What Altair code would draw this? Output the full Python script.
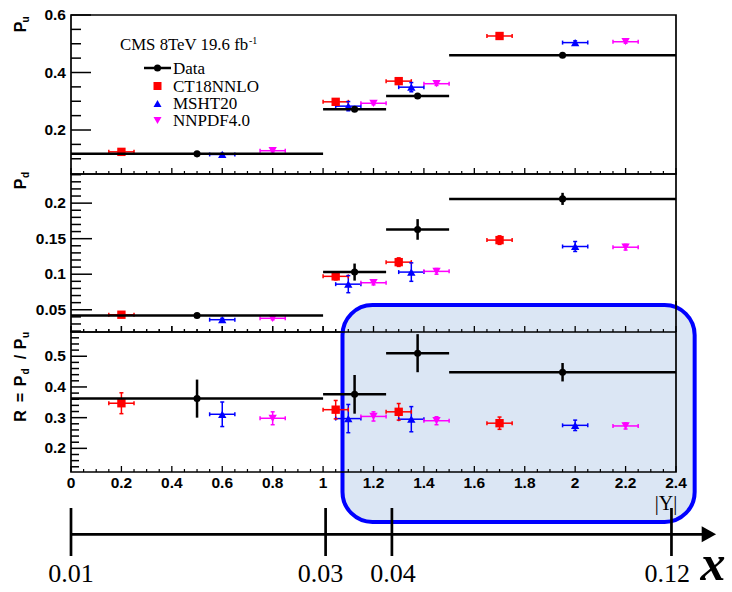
import altair as alt
import pandas as pd

# ---------------- data ----------------
series_names = ["CT18NNLO", "MSHT20", "NNPDF4.0"]
series_colors = ["#ff0000", "#0000ff", "#ff00ff"]
series_shapes = ["square", "triangle-up", "triangle-down"]

data_x = [0.5, 1.125, 1.375, 1.95]
data_xlo = [0.0, 1.0, 1.25, 1.5]
data_xhi = [1.0, 1.25, 1.5, 2.4]
ct_x = [0.2, 1.05, 1.3, 1.7]
msht_x = [0.6, 1.1, 1.35, 2.0]
nn_x = [0.8, 1.2, 1.45, 2.2]
model_xerr = 0.05

pu_data = [0.117, 0.272, 0.318, 0.460]
pu_data_err = [0.003, 0.004, 0.005, 0.005]
pu_ct = [0.124, 0.298, 0.370, 0.527]
pu_ct_err = [0.004, 0.005, 0.006, 0.006]
pu_msht = [0.115, 0.283, 0.349, 0.504]
pu_msht_err = [0.004, 0.016, 0.016, 0.006]
pu_nn = [0.128, 0.293, 0.361, 0.507]
pu_nn_err = [0.004, 0.005, 0.006, 0.005]

pd_data = [0.042, 0.103, 0.163, 0.206]
pd_data_err = [0.002, 0.012, 0.0145, 0.0085]
pd_ct = [0.043, 0.097, 0.117, 0.148]
pd_ct_err = [0.002, 0.005, 0.006, 0.006]
pd_msht = [0.036, 0.086, 0.103, 0.139]
pd_msht_err = [0.002, 0.012, 0.013, 0.007]
pd_nn = [0.038, 0.088, 0.104, 0.138]
pd_nn_err = [0.002, 0.003, 0.004, 0.004]

r_data = [0.362, 0.376, 0.510, 0.448]
r_data_err = [0.062, 0.063, 0.062, 0.030]
r_ct = [0.347, 0.326, 0.319, 0.282]
r_ct_err = [0.034, 0.030, 0.027, 0.020]
r_msht = [0.311, 0.297, 0.295, 0.275]
r_msht_err = [0.040, 0.046, 0.041, 0.017]
r_nn = [0.298, 0.304, 0.290, 0.273]
r_nn_err = [0.021, 0.015, 0.013, 0.010]

# bjorken-x annotation axis
xb_labels = ["0.01", "0.03", "0.04", "0.12"]
xb_ticks = [0.0, 1.01, 1.273, 2.382]
xb_label_at = [0.0, 0.99, 1.277, 2.365]

# tick values
x_major = [0, 0.2, 0.4, 0.6, 0.8, 1, 1.2, 1.4, 1.6, 1.8, 2, 2.2, 2.4]
x_minor = [round(i * 0.05, 2) for i in range(49) if i % 4 != 0]
pu_major = [0.2, 0.4, 0.6]
pu_minor = [0.1, 0.15, 0.25, 0.3, 0.35, 0.45, 0.5, 0.55]
pd_major = [0.05, 0.1, 0.15, 0.2]
pd_minor = [round(0.02 + i * 0.01, 2) for i in range(23) if (i + 2) % 5 != 0]
r_major = [0.2, 0.3, 0.4, 0.5]
r_minor = [round(0.14 + i * 0.02, 2) for i in range(22) if (i + 2) % 5 != 0]

# ---------------- layout ----------------
W = 605
X0 = 71
tops = [15, 174, 332]
heights = [159, 158, 140]
one = pd.DataFrame({"k": [0]})
xscale = alt.Scale(domain=[0, 2.4], nice=False, zero=False)
LAB_FONT = "Liberation Sans"
SERIF = "Liberation Serif"


def txt(text, x, y, size, font=SERIF, weight="normal", style="normal",
        angle=0, align="left", baseline="alphabetic", color="black"):
    return alt.Chart(one).mark_text(
        text=text, fontSize=size, font=font, fontWeight=weight, fontStyle=style,
        angle=angle, align=align, baseline=baseline, color=color
    ).encode(x=alt.value(x), y=alt.value(y))


def tick_labels(vals):
    return pd.DataFrame({"v": vals, "lab": [f"{v:g}" for v in vals]})


def model_frame(xs_list, ys_list, es_list):
    rows = []
    for name, xs, ys, es in zip(series_names, xs_list, ys_list, es_list):
        for x, y, e in zip(xs, ys, es):
            rows.append({"series": name, "x": x, "y": y,
                         "xlo": x - model_xerr, "xhi": x + model_xerr,
                         "ylo": y - e, "yhi": y + e})
    return pd.DataFrame(rows)


col = alt.Color("series:N", scale=alt.Scale(domain=series_names, range=series_colors), legend=None)
shp = alt.Shape("series:N", scale=alt.Scale(domain=series_names, range=series_shapes), legend=None)


def panel(idx, dy, de, my, me, domain, yt_major, yt_minor, maj_len, min_len,
          before=(), after=(), x_labels=False):
    H = heights[idx]
    ysc = alt.Scale(domain=domain, nice=False, zero=False)

    def X(f):
        return alt.X(f, scale=xscale, axis=None)

    def Y(f):
        return alt.Y(f, scale=ysc, axis=None)

    ddf = pd.DataFrame({"x": data_x, "xlo": data_xlo, "xhi": data_xhi, "y": dy, "e": de})
    ddf["ylo"] = ddf.y - ddf.e
    ddf["yhi"] = ddf.y + ddf.e
    mdf = model_frame([ct_x, msht_x, nn_x], my, me)

    layers = list(before)
    # y ticks (inside) and labels
    layers.append(alt.Chart(pd.DataFrame({"v": yt_major})).mark_rule(color="black", strokeWidth=1.5).encode(
        y=Y("v:Q"), x=alt.value(0), x2=alt.value(maj_len)))
    layers.append(alt.Chart(pd.DataFrame({"v": yt_minor})).mark_rule(color="black", strokeWidth=1.5).encode(
        y=Y("v:Q"), x=alt.value(0), x2=alt.value(min_len)))
    layers.append(alt.Chart(tick_labels(yt_major)).mark_text(
        font=LAB_FONT, fontWeight="bold", fontSize=15.5, align="right", baseline="middle", color="black").encode(
        y=Y("v:Q"), x=alt.value(-5), text="lab:N"))
    # x ticks (inside)
    layers.append(alt.Chart(pd.DataFrame({"v": x_major})).mark_rule(color="black", strokeWidth=1.3).encode(
        x=X("v:Q"), y=alt.value(H), y2=alt.value(H - 6)))
    layers.append(alt.Chart(pd.DataFrame({"v": x_minor})).mark_rule(color="black", strokeWidth=1.2).encode(
        x=X("v:Q"), y=alt.value(H), y2=alt.value(H - 3)))
    if x_labels:
        layers.append(alt.Chart(tick_labels(x_major)).mark_text(
            font=LAB_FONT, fontWeight="bold", fontSize=15.5, align="center", baseline="top", color="black").encode(
            x=X("v:Q"), y=alt.value(H + 4), text="lab:N"))
    # frame
    layers.append(alt.Chart(one).mark_rect(fillOpacity=0, stroke="black", strokeWidth=1.7).encode(
        x=alt.value(0), x2=alt.value(W), y=alt.value(0), y2=alt.value(H)))

    # model error bars
    layers.append(alt.Chart(mdf).mark_rule(strokeWidth=1.5).encode(
        x=X("xlo:Q"), x2="xhi:Q", y=Y("y:Q"), color=col))
    layers.append(alt.Chart(mdf).mark_rule(strokeWidth=1.5).encode(
        x=X("x:Q"), y=Y("ylo:Q"), y2="yhi:Q", color=col))
    layers.append(alt.Chart(mdf).transform_fold(["xlo", "xhi"], as_=["k", "xc"]).mark_tick(
        orient="vertical", size=4, thickness=1.5, opacity=1).encode(
        x=X("xc:Q"), y=Y("y:Q"), color=col))
    layers.append(alt.Chart(mdf).transform_fold(["ylo", "yhi"], as_=["k", "yc"]).mark_tick(
        orient="horizontal", size=4, thickness=1.5, opacity=1).encode(
        x=X("x:Q"), y=Y("yc:Q"), color=col))
    layers.append(alt.Chart(mdf).mark_point(filled=True, opacity=1, size=70).encode(
        x=X("x:Q"), y=Y("y:Q"), color=col, shape=shp))

    # data
    layers.append(alt.Chart(ddf).mark_rule(color="black", strokeWidth=2.5).encode(
        x=X("xlo:Q"), x2="xhi:Q", y=Y("y:Q")))
    layers.append(alt.Chart(ddf).mark_rule(color="black", strokeWidth=2.5).encode(
        x=X("x:Q"), y=Y("ylo:Q"), y2="yhi:Q"))
    layers.append(alt.Chart(ddf).mark_point(filled=True, opacity=1, size=50, shape="circle", color="black").encode(
        x=X("x:Q"), y=Y("y:Q")))

    layers += list(after)
    return alt.layer(*layers).properties(width=W, height=H)


# ---------- top panel extras ----------
oy = tops[0]
top_before = [alt.Chart(one).mark_rect(fill="white", fillOpacity=0).encode(
    x=alt.value(-X0), x2=alt.value(732 - X0), y=alt.value(-oy), y2=alt.value(592 - oy))]
top_after = [
    txt("P", 26 - X0, 27 - oy, 16, font=LAB_FONT, weight="bold", angle=270, align="center"),
    txt("u", 28.5 - X0, 19.5 - oy, 10, font=LAB_FONT, weight="bold", angle=270, align="center"),
    txt("CMS 8TeV 19.6 fb", 120 - X0, 49.5 - oy, 16.8),
    txt("-1", 249 - X0, 43.5 - oy, 10),
    alt.Chart(one).mark_rule(color="black", strokeWidth=2.5).encode(
        x=alt.value(144 - X0), x2=alt.value(171 - X0), y=alt.value(68 - oy)),
    alt.Chart(one).mark_point(filled=True, opacity=1, size=50, shape="circle", color="black").encode(
        x=alt.value(157.5 - X0), y=alt.value(68 - oy)),
    alt.Chart(one).mark_point(filled=True, opacity=1, size=64, shape="square", color=series_colors[0]).encode(
        x=alt.value(157.5 - X0), y=alt.value(86 - oy)),
    alt.Chart(one).mark_point(filled=True, opacity=1, size=64, shape="triangle-up", color=series_colors[1]).encode(
        x=alt.value(157.5 - X0), y=alt.value(103.5 - oy)),
    alt.Chart(one).mark_point(filled=True, opacity=1, size=64, shape="triangle-down", color=series_colors[2]).encode(
        x=alt.value(157.5 - X0), y=alt.value(120.5 - oy)),
    txt("Data", 173 - X0, 74 - oy, 17),
    txt(series_names[0], 173 - X0, 91.5 - oy, 17),
    txt(series_names[1], 173 - X0, 109 - oy, 17),
    txt(series_names[2], 173 - X0, 126 - oy, 17),
]

# ---------- middle panel extras ----------
oy = tops[1]
mid_after = [
    txt("P", 26 - X0, 184 - oy, 16, font=LAB_FONT, weight="bold", angle=270, align="center"),
    txt("d", 28.5 - X0, 175 - oy, 10, font=LAB_FONT, weight="bold", angle=270, align="center"),
]

# ---------- bottom panel extras ----------
oy = tops[2]
box_df = pd.DataFrame({"x1": [1.077], "x2": [2.474]})
bot_before = [alt.Chart(box_df).mark_rect(fill="#dbe6f4", stroke="#0000ff", strokeWidth=4, cornerRadius=30).encode(
    x=alt.X("x1:Q", scale=xscale, axis=None), x2="x2:Q", y=alt.value(305 - oy), y2=alt.value(522 - oy))]

xb_df = pd.DataFrame({"t": xb_ticks, "lab": xb_labels, "la": xb_label_at})
bot_after = [
    # middle panel bottom ticks redrawn over the box
    alt.Chart(pd.DataFrame({"v": x_major})).mark_rule(color="black", strokeWidth=1.3).encode(
        x=alt.X("v:Q", scale=xscale, axis=None), y=alt.value(0), y2=alt.value(-6)),
    alt.Chart(pd.DataFrame({"v": x_minor})).mark_rule(color="black", strokeWidth=1.2).encode(
        x=alt.X("v:Q", scale=xscale, axis=None), y=alt.value(0), y2=alt.value(-3)),
    alt.Chart(one).mark_rule(color="black", strokeWidth=1.7).encode(
        x=alt.value(W), y=alt.value(305 - oy - 4), y2=alt.value(0)),
    # R title
    txt("R", 26 - X0, 416 - oy, 16, font=LAB_FONT, weight="bold", angle=270, align="center"),
    txt("=", 26 - X0, 397.5 - oy, 16, font=LAB_FONT, weight="bold", angle=270, align="center"),
    txt("P", 26 - X0, 381 - oy, 16, font=LAB_FONT, weight="bold", angle=270, align="center"),
    txt("d", 28.5 - X0, 371.5 - oy, 10, font=LAB_FONT, weight="bold", angle=270, align="center"),
    txt("/", 26 - X0, 357 - oy, 16, font=LAB_FONT, weight="bold", angle=270, align="center"),
    txt("P", 26 - X0, 344 - oy, 16, font=LAB_FONT, weight="bold", angle=270, align="center"),
    txt("u", 28.5 - X0, 335 - oy, 10, font=LAB_FONT, weight="bold", angle=270, align="center"),
    # |Y| label
    txt("|Y|", 666 - X0, 509.5 - oy, 20, align="center"),
    # bjorken-x axis
    alt.Chart(one).mark_rule(color="black", strokeWidth=2.7).encode(
        x=alt.value(0), x2=alt.value(633), y=alt.value(534.3 - oy)),
    alt.Chart(xb_df).mark_rule(color="black", strokeWidth=2.7).encode(
        x=alt.X("t:Q", scale=xscale, axis=None), y=alt.value(508 - oy), y2=alt.value(556 - oy)),
    alt.Chart(one).mark_point(filled=True, opacity=1, size=256, shape="M-0.9,-1L0.9,0L-0.9,1Z", color="black").encode(
        x=alt.value(708.9 - X0), y=alt.value(534.3 - oy)),
    alt.Chart(xb_df).mark_text(fontSize=26, font=SERIF, align="center", baseline="alphabetic", color="black").encode(
        x=alt.X("la:Q", scale=xscale, axis=None), y=alt.value(582 - oy), text="lab:N"),
    txt("x", 713 - X0, 580 - oy, 50, weight="bold", style="italic", align="center"),
]

top = panel(0, pu_data, pu_data_err, [pu_ct, pu_msht, pu_nn], [pu_ct_err, pu_msht_err, pu_nn_err],
            [0.047, 0.6], pu_major, pu_minor, 20, 10, before=top_before, after=top_after)
mid = panel(1, pd_data, pd_data_err, [pd_ct, pd_msht, pd_nn], [pd_ct_err, pd_msht_err, pd_nn_err],
            [0.0187, 0.241], pd_major, pd_minor, 21, 10, after=mid_after)
bot = panel(2, r_data, r_data_err, [r_ct, r_msht, r_nn], [r_ct_err, r_msht_err, r_nn_err],
            [0.123, 0.579], r_major, r_minor, 16, 8, before=bot_before, after=bot_after, x_labels=True)

chart = alt.vconcat(top, mid, bot, spacing=0, bounds="flush").properties(
    padding=0, background="white"
).configure_view(strokeWidth=0)

chart.save("out.html", embed_options={"renderer": "svg", "actions": False})
